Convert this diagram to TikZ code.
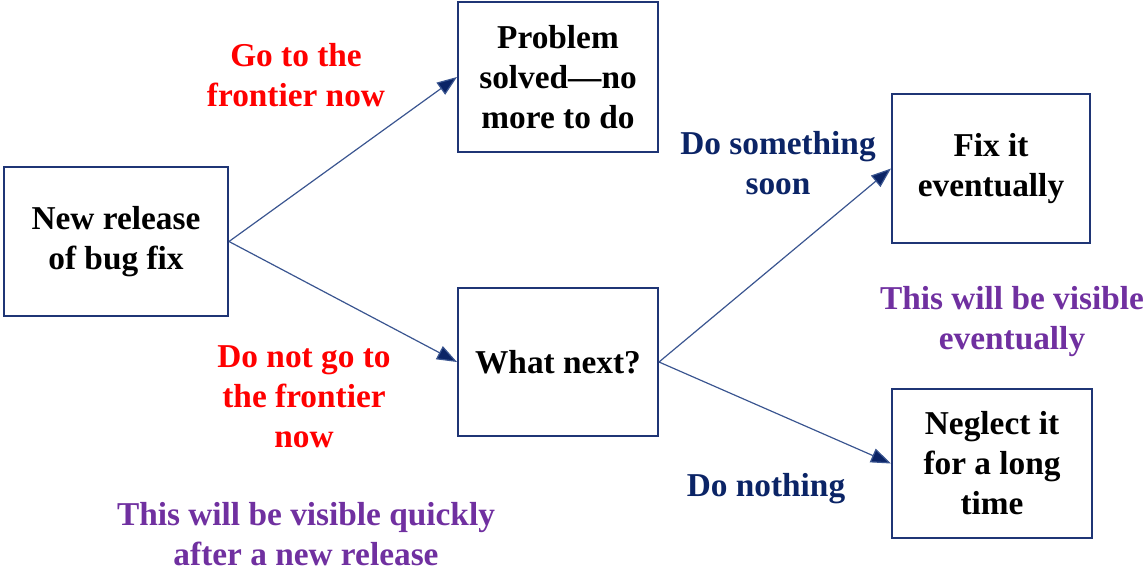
\documentclass[tikz,border=0pt]{standalone}
\usepackage{fontspec}
\setmainfont{Liberation Serif}
\usetikzlibrary{arrows.meta}
\definecolor{navy}{HTML}{0B2466}
\definecolor{boxline}{HTML}{1F3575}
\definecolor{arrline}{HTML}{3A5590}
\definecolor{purp}{HTML}{7030A0}
\begin{document}
\begin{tikzpicture}[x=0.75pt,y=-0.75pt,
  box/.style={draw=boxline, line width=1.5pt, fill=white, align=center, inner sep=0pt,
    font=\fontsize{25}{30}\selectfont\bfseries},
  lbl/.style={align=center, inner sep=0pt, font=\fontsize{25}{30}\selectfont\bfseries},
  arr/.style={draw=arrline, line width=0.9pt, -{Triangle[length=15pt,width=11pt,fill=navy]}}]
\useasboundingbox (0,0) rectangle (1145,571);
\node[box, minimum width=168pt, minimum height=112pt] (new) at (116,241.5) {New release\\of bug fix};
\node[box, minimum width=150pt, minimum height=112.5pt] (prob) at (558,77) {Problem\\solved—no\\more to do};
\node[box, minimum width=150pt, minimum height=111pt] (what) at (558,362) {What next?};
\node[box, minimum width=148.5pt, minimum height=112pt] (fix) at (991,168.5) {Fix it\\eventually};
\node[box, minimum width=150pt, minimum height=112pt] (neg) at (992,463.5) {Neglect it\\for a long\\time};
\draw[arr] (new.east) -- (prob.west);
\draw[arr] (new.east) -- (what.west);
\draw[arr] (what.east) -- (fix.west);
\draw[arr] (what.east) -- (neg.west);
\node[lbl, text=red] (l1) at (296,75) {Go to the\\frontier now};
\node[lbl, text=red] (l2) at (304,397) {Do not go to\\the frontier\\now};
\node[lbl, text=navy] (l3) at (778,163) {Do something\\soon};
\node[lbl, text=navy] (l4) at (766,489) {Do nothing};
\node[lbl, text=purp] (l5) at (1012,322) {This will be visible\\eventually};
\node[lbl, text=purp] (l6) at (306,534) {This will be visible quickly\\after a new release};
\end{tikzpicture}
\end{document}
